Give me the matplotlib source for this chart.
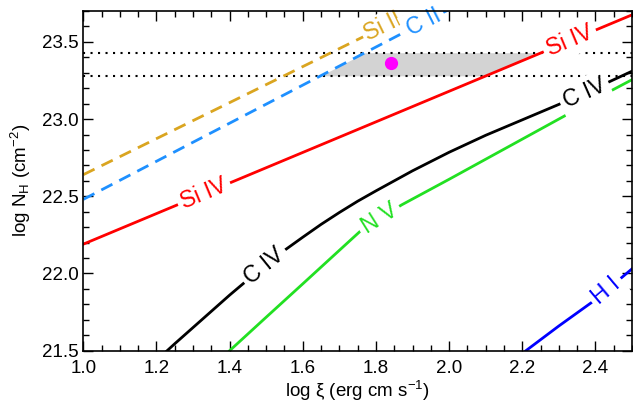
import numpy as np
import matplotlib
matplotlib.use('Agg')
import matplotlib.pyplot as plt
from matplotlib.ticker import MultipleLocator

plt.rcParams['font.family'] = ['Liberation Sans', 'DejaVu Sans']
plt.rcParams['mathtext.fontset'] = 'custom'
plt.rcParams['mathtext.rm'] = 'Liberation Sans'
plt.rcParams['mathtext.it'] = 'Liberation Sans:italic'

# column density vs ionization parameter curves
si2_x = [1.0, 1.3, 1.6, 1.9, 2.0]
si2_y = [22.64, 22.99, 23.34, 23.69, 23.81]

cii_x = [1.0, 1.3, 1.6, 1.9, 2.1]
cii_y = [22.48, 22.85, 23.22, 23.59, 23.83]

siiv_x = [1.0, 1.5, 2.0, 2.5]
siiv_y = [22.19, 22.685, 23.18, 23.675]

civ_x = [1.22, 1.25, 1.30, 1.35, 1.40, 1.45, 1.50, 1.55, 1.60, 1.65, 1.70, 1.75,
         1.80, 1.85, 1.90, 2.0, 2.1, 2.2, 2.3, 2.4, 2.5]
civ_y = [21.48, 21.545, 21.65, 21.755, 21.86, 21.96, 22.06, 22.15, 22.235, 22.318,
         22.395, 22.468, 22.535, 22.60, 22.665, 22.785, 22.895, 22.995, 23.095, 23.20, 23.31]

nv_x = [1.40, 1.5, 1.6, 1.7, 1.76, 1.87, 2.0, 2.2, 2.4, 2.5]
nv_y = [21.50, 21.717, 21.933, 22.15, 22.28, 22.444, 22.61, 22.87, 23.13, 23.255]

hi_x = [2.21, 2.3, 2.4, 2.5]
hi_y = [21.50, 21.66, 21.83, 22.03]

# measured N_H range and solution
nh_lo, nh_hi = 23.28, 23.43
sol_x, sol_y = 1.84, 23.36

fig = plt.figure(figsize=(6.33, 4.03), dpi=100)
ax = fig.add_axes([0.1316, 0.1298, 0.8668, 0.8429])
ax.set_xlim(1.0, 2.5)
ax.set_ylim(21.5, 23.7)

lw = 2.0
dash = (0, (4.5, 2.8))

# shaded allowed region between C II and Si IV
yy = np.linspace(nh_lo, nh_hi, 20)
xl = np.interp(yy, cii_y, cii_x)
xr = np.interp(yy, siiv_y, siiv_x)
ax.fill_betweenx(yy, xl, xr, color='#d3d3d3', lw=0, zorder=1)

ax.axhline(nh_lo, color='k', ls=(0, (1, 2.6)), lw=1.5, zorder=1.5)
ax.axhline(nh_hi, color='k', ls=(0, (1, 2.6)), lw=1.5, zorder=1.5)

ax.plot(si2_x, si2_y, color='#daa520', lw=lw, ls=dash)
ax.plot(cii_x, cii_y, color='#1e90ff', lw=lw, ls=dash, zorder=2.3)
ax.plot(siiv_x, siiv_y, color='red', lw=lw)
ax.plot(civ_x, civ_y, color='black', lw=lw)
ax.plot(nv_x, nv_y, color='#22e022', lw=lw)
ax.plot(hi_x, hi_y, color='blue', lw=lw)

ax.plot(sol_x, sol_y, 'o', color='magenta', ms=8.5, zorder=3)


def label(xs, ys, xpos, text, color, pad=3, z=2.2):
    y0 = np.interp(xpos, xs, ys)
    d = 0.03
    slope = (np.interp(xpos + d, xs, ys) - np.interp(xpos - d, xs, ys)) / (2 * d)
    ang = np.degrees(np.arctan2(slope, 1.0))
    ax.text(xpos, y0, text, color=color, fontsize=16.5, ha='center', va='center',
            rotation=ang, transform_rotates_text=True, rotation_mode='anchor',
            bbox=dict(facecolor='white', edgecolor='none', pad=pad), zorder=z)


label(si2_x, si2_y, 1.82, 'Si II', '#daa520', pad=2)
label(cii_x, cii_y, 1.93, 'C II', '#1e90ff', z=2.4)
label(siiv_x, siiv_y, 1.33, 'Si IV', 'red')
label(siiv_x, siiv_y, 2.33, 'Si IV', 'red')
label(civ_x, civ_y, 1.495, 'C IV', 'black')
label(civ_x, civ_y, 2.37, 'C IV', 'black')
label(nv_x, nv_y, 1.81, 'N V', '#22e022')
label(hi_x, hi_y, 2.43, 'H I', 'blue')

ax.xaxis.set_major_locator(MultipleLocator(0.2))
ax.xaxis.set_minor_locator(MultipleLocator(0.05))
ax.yaxis.set_major_locator(MultipleLocator(0.5))
ax.yaxis.set_minor_locator(MultipleLocator(0.1))
ax.tick_params(which='both', direction='in', top=True, right=True, labelsize=13.5, width=1)
ax.tick_params(which='major', length=7)
ax.tick_params(which='minor', length=4)
ax.tick_params(axis='x', pad=7)
ax.set_xticks(ax.get_xticks())
ax.set_xticklabels(['%.1f' % t for t in ax.get_xticks()])
ax.set_xlim(1.0, 2.5)
for s in ax.spines.values():
    s.set_linewidth(1.2)
    s.set_zorder(4)

ax.set_xlabel(r'log ξ (erg cm s$^{-1}$)', fontsize=13.5, labelpad=1)
ax.set_ylabel(r'log N$_{\rm H}$ (cm$^{-2}$)', fontsize=13.5, labelpad=6)

fig.savefig('out.png', dpi=100)
